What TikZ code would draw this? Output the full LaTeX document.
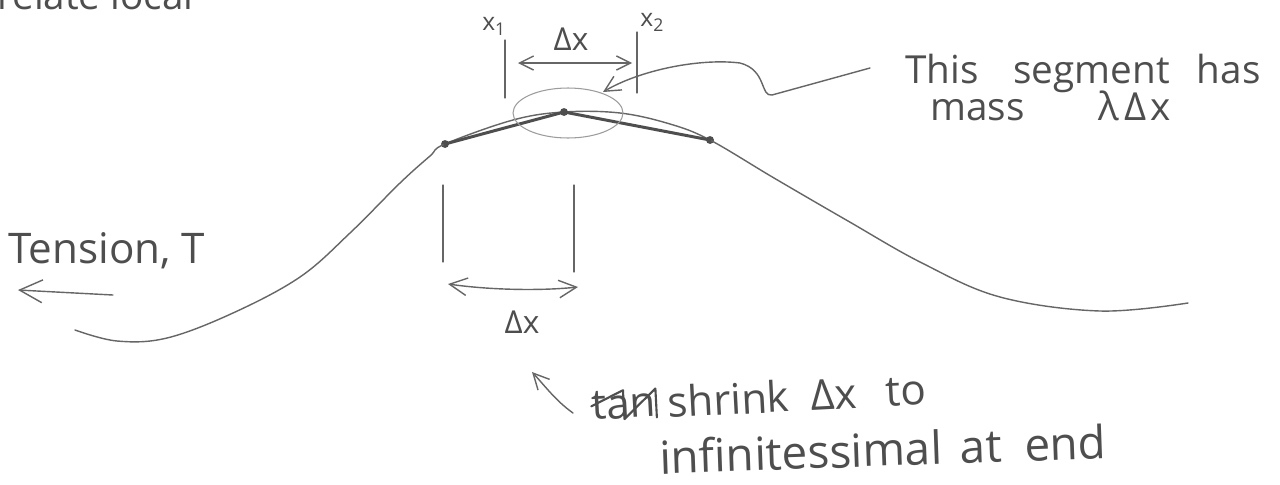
\documentclass[tikz,border=0pt]{standalone}
\usepackage{fontspec}
\setmainfont{Open Sans}
\usetikzlibrary{arrows.meta,shapes.geometric}
\definecolor{inkc}{HTML}{4E4E4E}
\definecolor{pencil}{HTML}{666666}
\definecolor{faint}{HTML}{9C9C9C}
\newcommand{\hsz}[1]{\fontsize{#1}{#1}\selectfont}
\begin{document}
\begin{tikzpicture}[x=0.02cm,y=-0.02cm,
  stroke/.style={draw=pencil, line width=0.8pt, line cap=round, line join=round},
  chord/.style={draw=inkc, line width=1.7pt, line cap=round, line join=round},
  lbl/.style={text=inkc, inner sep=0pt},
  tick/.style={draw=pencil, line width=0.7pt, line cap=round},
  dot/.style={circle, fill=inkc, inner sep=0pt, minimum size=4.5pt},
  barb/.style={-{Straight Barb[length=#1, width=#1, line width=0.8pt]}},
  dbarb/.style={{Straight Barb[length=#1, width=#1, line width=0.8pt]}-{Straight Barb[length=#1, width=#1, line width=0.8pt]}},
]
\useasboundingbox (0,0) rectangle (1280,484);
\fill[white] (0,0) rectangle (1280,484);

% cut-off text at the top edge
\begin{scope}
\clip (0,0) rectangle (1280,484);
\node[lbl, font=\hsz{22}, anchor=base west] (topnote) at (-3,9) {relate local};
\end{scope}

% points on the string
\node[dot] (d1) at (445,144) {};
\node[dot] (d2) at (564,112) {};
\node[dot] (d3) at (710,140) {};

% the string
\draw[stroke] plot[smooth, tension=0.6] coordinates {(75,330) (117,341) (167,338) (233,313) (300,277) (350,233) (400,183) (430,156) (d1.center) (513,120) (d2.center) (620,113) (670,124) (d3.center) (774,178) (848,221) (922,263) (1000,297) (1100,311) (1188,303)};

% secant chords
\draw[chord] (d1.center) -- (d2.center) -- (d3.center);

% the segment ellipse
\node[draw=faint, line width=0.6pt, ellipse, minimum width=2.2cm, minimum height=1cm, inner sep=0pt] (seg) at (568,113) {};

% top ticks x1, x2 and Delta x
\coordinate (x1a) at (505,40); \coordinate (x1b) at (505,98);
\coordinate (x2a) at (637,32); \coordinate (x2b) at (637,93);
\draw[tick] (x1a) -- (x1b);
\draw[tick] (x2a) -- (x2b);
\coordinate (ta) at (518,63); \coordinate (tb) at (632,63);
\draw[stroke, dbarb=8pt] (ta) -- (tb);
\node[lbl, font=\hsz{14}, anchor=base west] (x1) at (482,30) {x\raisebox{-0.4ex}{\hsz{10}1}};
\node[lbl, font=\hsz{14}, anchor=base west] (x2) at (640,26) {x\raisebox{-0.4ex}{\hsz{10}2}};
\node[lbl, font=\hsz{18}, anchor=base] (dxtop) at (571,50) {Δx};

% label and pointer
\node[lbl, font=\hsz{22}, anchor=base west] (seglabel) at (905,83) {This\hspace{0.9em}segment\hspace{0.7em}has};
\node[lbl, font=\hsz{22}, anchor=base west] (mass) at (930,120) {mass\hspace{1.9em}λ\hspace{0.15em}Δ\hspace{0.1em}x};
\coordinate (ptail) at (870,68);
\coordinate (ptip) at (603,92);
\draw[stroke, barb=9pt] (ptail) -- (772,95) .. controls (760,97) and (767,70) .. (740,63) .. controls (700,58) and (640,70) .. (ptip);

% tension
\node[lbl, font=\hsz{24}, anchor=base west] (tension) at (8,263) {Tension, T};
\coordinate (tt) at (113,295); \coordinate (th) at (18,290);
\draw[stroke, barb=13pt] (tt) -- (th);

% lower Delta x
\coordinate (l1a) at (443,185); \coordinate (l1b) at (443,262);
\coordinate (l2a) at (574,185); \coordinate (l2b) at (574,272);
\draw[tick] (l1a) -- (l1b);
\draw[tick] (l2a) -- (l2b);
\coordinate (ba) at (448,284); \coordinate (bb) at (578,287);
\draw[stroke, dbarb=10pt] (ba) .. controls (490,290) and (540,291) .. (bb);
\node[lbl, font=\hsz{18}, anchor=base] (dxbot) at (522,333) {Δx};

% note at the bottom
\node[lbl, font=\hsz{24}, anchor=base west, rotate=3] (strk) at (592,420) {tan};
\draw[draw=inkc, line width=1.2pt, line cap=round, line join=round] (strk.west) -- (strk.north) -- (strk.south) -- (strk.north east) -- (strk.south east);
\node[lbl, font=\hsz{24}, anchor=base west, rotate=3] (shrink) at (668,418) {shrink\hspace{0.5em}Δx\hspace{0.7em}to};
\node[lbl, font=\hsz{26}, anchor=base west, rotate=2] (infin) at (660,474) {infinitessimal\hspace{0.4em}at\hspace{0.5em}end};
\coordinate (nt) at (573,413); \coordinate (nh) at (532,372);
\draw[stroke, barb=9pt] (nt) .. controls (556,401) and (545,386) .. (nh);
\end{tikzpicture}
\end{document}
